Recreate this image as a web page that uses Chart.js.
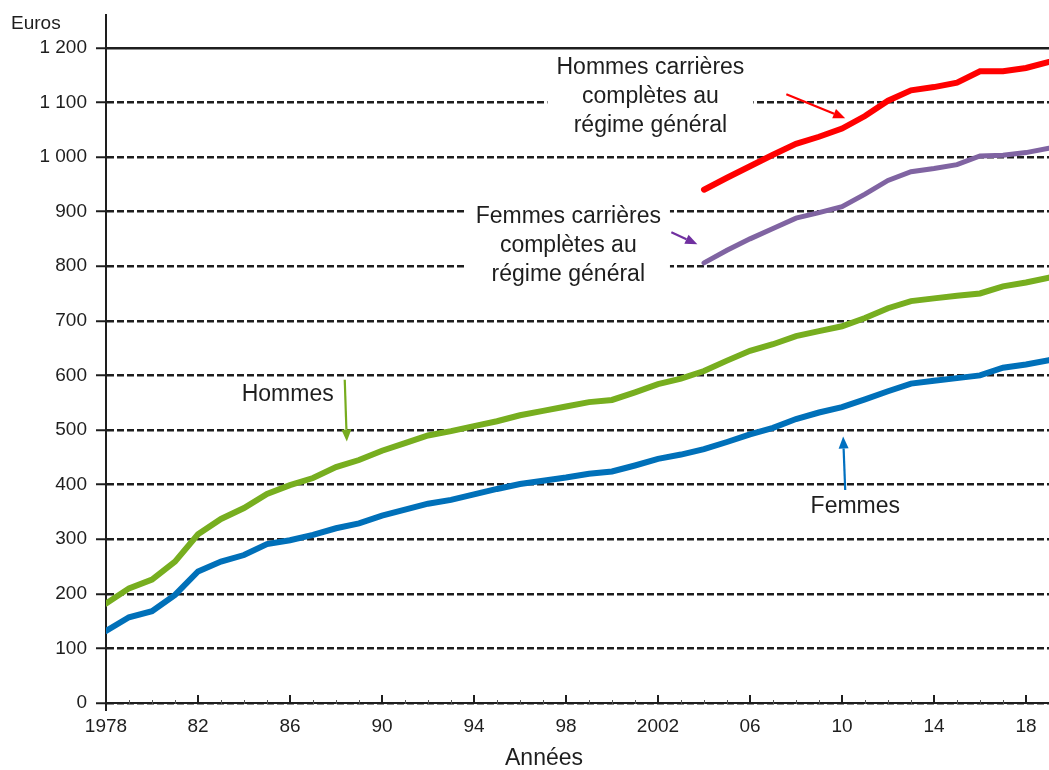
<!DOCTYPE html>
<html lang="fr">
<head>
<meta charset="utf-8">
<title>Pension moyenne</title>
<script src="https://cdn.jsdelivr.net/npm/chart.js@4.4.1/dist/chart.umd.min.js"></script>
<style>
    html, body { margin: 0; padding: 0; background: #fff; }
    #wrap { width: 1049px; height: 770px; }
</style>
</head>
<body>
<div id="wrap"><canvas id="pensionChart" width="1049" height="770"></canvas></div>
<script>
const years = [1978, 1979, 1980, 1981, 1982, 1983, 1984, 1985, 1986, 1987, 1988, 1989, 1990, 1991,
    1992, 1993, 1994, 1995, 1996, 1997, 1998, 1999, 2000, 2001, 2002, 2003, 2004, 2005,
    2006, 2007, 2008, 2009, 2010, 2011, 2012, 2013, 2014, 2015, 2016, 2017, 2018, 2019];
const femmes = [132, 157, 168, 198, 241, 259, 271, 291, 298, 308, 320, 329, 343, 354,
    365, 372, 382, 392, 401, 407, 413, 420, 424, 435, 447, 455, 465, 478,
    492, 504, 520, 532, 542, 556, 571, 585, 590, 595, 600, 614, 620, 628];
const hommes = [182, 210, 226, 259, 309, 337, 357, 383, 399, 412, 432, 445, 462, 476,
    490, 498, 507, 516, 527, 535, 543, 551, 555, 569, 584, 594, 608, 627,
    645, 657, 672, 681, 690, 705, 723, 736, 741, 746, 750, 763, 770, 779];
const yearsCarriere = [2004, 2005, 2006, 2007, 2008, 2009, 2010, 2011, 2012, 2013, 2014, 2015, 2016, 2017, 2018, 2019];
const hommesCarriere = [940, 962, 983, 1004, 1024, 1037, 1052, 1075, 1103, 1122, 1128, 1136, 1157, 1157, 1163, 1174];
const femmesCarriere = [806, 829, 850, 869, 888, 898, 909, 932, 957, 973, 979, 986, 1002, 1003, 1008, 1016];

const xTicks = [1978, 1982, 1986, 1990, 1994, 1998, 2002, 2006, 2010, 2014, 2018];
const yTicks = [0, 100, 200, 300, 400, 500, 600, 700, 800, 900, 1000, 1100, 1200];

const FONT = "'Liberation Sans', Arial, sans-serif";
const INK = '#1e1e1e';

// labels placed in data units (year, euros)
const labels = [
    { lines: ['Hommes carrières', 'complètes au', 'régime général'], x: 2001.67, y: 1168 },
    { lines: ['Femmes carrières', 'complètes au', 'régime général'], x: 1998.1, y: 894 },
    { lines: ['Hommes'], x: 1985.9, y: 568 },
    { lines: ['Femmes'], x: 2010.58, y: 363 }
];
const arrows = [
    { from: [2007.58, 1115], to: [2010.14, 1071], color: '#ff0000' },
    { from: [2002.58, 862], to: [2003.71, 840], color: '#7030a0' },
    { from: [1988.38, 592], to: [1988.47, 479], color: '#77ac1e' },
    { from: [2010.14, 390], to: [2010.05, 488], color: '#0070c0' }
];

function pairs(xs, ys) {
    return xs.map((x, i) => ({ x: x, y: ys[i] }));
}

function drawArrow(ctx, x1, y1, x2, y2, color) {
    const ang = Math.atan2(y2 - y1, x2 - x1);
    const head = 12, half = 5;
    const bx = x2 - head * Math.cos(ang), by = y2 - head * Math.sin(ang);
    ctx.strokeStyle = color;
    ctx.lineWidth = 2.2;
    ctx.beginPath();
    ctx.moveTo(x1, y1);
    ctx.lineTo(bx, by);
    ctx.stroke();
    ctx.fillStyle = color;
    ctx.beginPath();
    ctx.moveTo(x2, y2);
    ctx.lineTo(bx + half * Math.sin(ang), by - half * Math.cos(ang));
    ctx.lineTo(bx - half * Math.sin(ang), by + half * Math.cos(ang));
    ctx.closePath();
    ctx.fill();
}

const decorations = {
    id: 'decorations',
    afterDatasetsDraw(chart) {
        const { ctx, scales: { x, y }, chartArea } = chart;
        ctx.save();

        // axis ticks on the x axis (inward major, small minor)
        ctx.strokeStyle = '#555';
        ctx.lineWidth = 1;
        years.forEach(v => {
            const px = Math.round(x.getPixelForValue(v)) + 0.5;
            ctx.beginPath();
            ctx.moveTo(px, chartArea.bottom - 3);
            ctx.lineTo(px, chartArea.bottom + 1);
            ctx.stroke();
        });
        ctx.strokeStyle = INK;
        ctx.lineWidth = 2;
        xTicks.forEach(v => {
            const px = Math.round(x.getPixelForValue(v));
            ctx.beginPath();
            ctx.moveTo(px, chartArea.bottom - 8);
            ctx.lineTo(px, chartArea.bottom + (v === 1978 ? 8 : 1));
            ctx.stroke();
        });

        // text labels with white backing
        ctx.font = '23px ' + FONT;
        ctx.textAlign = 'center';
        ctx.textBaseline = 'middle';
        const lh = 29;
        labels.forEach(l => {
            const cx = x.getPixelForValue(l.x);
            const cy = y.getPixelForValue(l.y) + 2;
            const w = Math.max(...l.lines.map(t => ctx.measureText(t).width));
            const top = cy - 13;
            const bottom = cy + (l.lines.length - 1) * lh + 13;
            ctx.fillStyle = '#fff';
            ctx.fillRect(cx - w / 2 - 9, top, w + 18, bottom - top);
            ctx.fillStyle = INK;
            l.lines.forEach((t, i) => ctx.fillText(t, cx, cy + i * lh));
        });

        arrows.forEach(a => {
            drawArrow(ctx,
                x.getPixelForValue(a.from[0]), y.getPixelForValue(a.from[1]),
                x.getPixelForValue(a.to[0]), y.getPixelForValue(a.to[1]), a.color);
        });

        // axis titles
        ctx.fillStyle = INK;
        ctx.textAlign = 'left';
        ctx.textBaseline = 'alphabetic';
        ctx.font = '19px ' + FONT;
        ctx.fillText('Euros', 11, 29);
        ctx.textAlign = 'center';
        ctx.font = '23px ' + FONT;
        ctx.fillText('Années', 544, 765);
        ctx.restore();
    }
};

function formatEuros(v) {
    if (v >= 1000) {
        return Math.floor(v / 1000) + ' ' + String(v % 1000).padStart(3, '0');
    }
    return String(v);
}

const ctx = document.getElementById('pensionChart');
new Chart(ctx, {
    type: 'line',
    data: {
        datasets: [
            {
                label: 'Femmes',
                data: pairs(years, femmes),
                borderColor: '#0070b9',
                borderWidth: 6,
                tension: 0,
                pointRadius: 0,
                borderCapStyle: 'round'
            },
            {
                label: 'Hommes',
                data: pairs(years, hommes),
                borderColor: '#77ae1f',
                borderWidth: 6,
                tension: 0,
                pointRadius: 0,
                borderCapStyle: 'round'
            },
            {
                label: 'Femmes carrières complètes au régime général',
                data: pairs(yearsCarriere, femmesCarriere),
                borderColor: '#8064a2',
                borderWidth: 5,
                tension: 0,
                pointRadius: 0,
                borderCapStyle: 'round'
            },
            {
                label: 'Hommes carrières complètes au régime général',
                data: pairs(yearsCarriere, hommesCarriere),
                borderColor: '#ff0000',
                borderWidth: 6,
                tension: 0,
                pointRadius: 0,
                borderCapStyle: 'round'
            }
        ]
    },
    options: {
        responsive: false,
        animation: false,
        layout: { padding: { top: 15, right: 0, left: 0, bottom: 0 } },
        plugins: {
            legend: { display: false },
            tooltip: { enabled: false }
        },
        scales: {
            x: {
                type: 'linear',
                min: 1978,
                max: 2019,
                afterBuildTicks: scale => { scale.ticks = xTicks.map(v => ({ value: v })); },
                afterFit: scale => { scale.height = 67; },
                ticks: {
                    color: INK,
                    padding: 12,
                    maxRotation: 0,
                    font: { family: FONT, size: 19 },
                    callback: v => (v === 1978 || v === 2002) ? String(v) : String(v % 100).padStart(2, '0')
                },
                grid: { display: true, drawOnChartArea: false, drawTicks: false },
                border: { display: true, color: INK, width: 2 }
            },
            y: {
                min: 0,
                max: 1260,
                afterBuildTicks: scale => { scale.ticks = yTicks.map(v => ({ value: v })); },
                afterFit: scale => { scale.width = 106; scale.paddingTop = 0; },
                ticks: {
                    color: INK,
                    padding: 9,
                    font: { family: FONT, size: 19 },
                    callback: v => formatEuros(v)
                },
                grid: {
                    color: INK,
                    lineWidth: 2.5,
                    tickLength: 10,
                    tickWidth: 2,
                    tickColor: INK
                },
                border: {
                    display: true,
                    color: INK,
                    width: 2,
                    dash: c => (c.type === 'tick' && c.tick && c.tick.value !== 1200) ? [7, 3] : []
                }
            }
        }
    },
    plugins: [decorations]
});
</script>
</body>
</html>
